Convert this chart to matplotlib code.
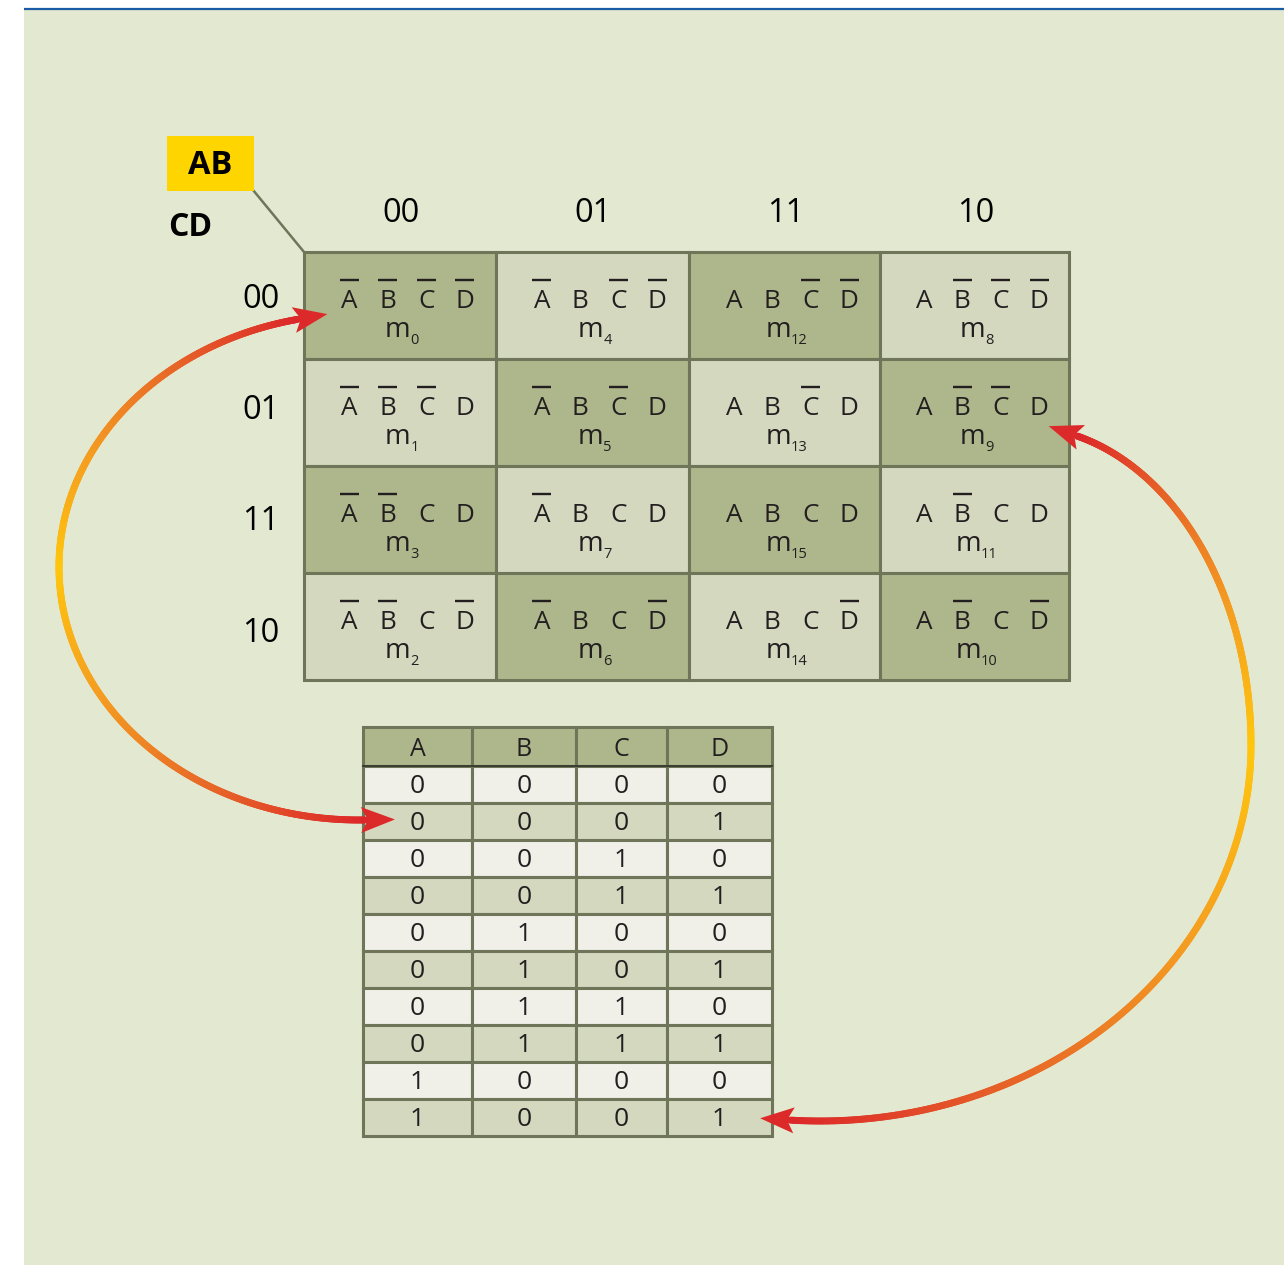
import numpy as np
import matplotlib.pyplot as plt
from matplotlib.patches import Rectangle, Polygon
from matplotlib.collections import LineCollection

plt.rcParams['font.family'] = ['Open Sans', 'DejaVu Sans']

# K-map axis codes (Gray order)
ab_codes = ['00', '01', '11', '10']
cd_codes = ['00', '01', '11', '10']
variables = ['A', 'B', 'C', 'D']

# truth table shown below the map
tt_header = ['A', 'B', 'C', 'D']
tt_rows = [
    [0, 0, 0, 0],
    [0, 0, 0, 1],
    [0, 0, 1, 0],
    [0, 0, 1, 1],
    [0, 1, 0, 0],
    [0, 1, 0, 1],
    [0, 1, 1, 0],
    [0, 1, 1, 1],
    [1, 0, 0, 0],
    [1, 0, 0, 1],
]

# colours
bg = '#E3E8D0'
dark_cell = '#AEB68B'
light_cell = '#D4D8BF'
white_row = '#F0F0E9'
edge = '#6E7558'
ink = '#231F20'

fig = plt.figure(figsize=(12.84, 12.65), dpi=100)
ax = fig.add_axes([0, 0, 1, 1])
ax.set_xlim(0, 1284)
ax.set_ylim(1265, 0)
ax.axis('off')

# page background + blue rule
ax.add_patch(Rectangle((24, 10), 1260, 1255, facecolor=bg, edgecolor='none', zorder=0))
ax.plot([24, 1284], [9, 9], color='#1B5CA8', lw=1.6, zorder=1, solid_capstyle='butt')

# --- Karnaugh map ---
x0, y0 = 304, 252
col_w = [192, 193, 191, 189]
row_h = 107
col_x = np.concatenate([[x0], x0 + np.cumsum(col_w)])
renderer = fig.canvas.get_renderer()

for r, cd in enumerate(cd_codes):
    top = y0 + r * row_h
    for c, ab in enumerate(ab_codes):
        left = col_x[c]
        w = col_w[c]
        fc = dark_cell if (r + c) % 2 == 0 else light_cell
        ax.add_patch(Rectangle((left, top), w, row_h, facecolor=fc,
                               edgecolor=edge, lw=2.2, zorder=2))
        cx = left + w / 2
        bits = ab + cd
        for i, (v, b) in enumerate(zip(variables, bits)):
            lx = cx + 7 + (i - 1.5) * 38.5
            ax.text(lx, top + 56, v, fontsize=18.8, color=ink, ha='center',
                    va='baseline', zorder=3)
            if b == '0':
                ax.plot([lx - 9.5, lx + 9.5], [top + 28, top + 28], color=ink,
                        lw=1.7, solid_capstyle='butt', zorder=3)
        # minterm label m_n
        n = int(bits, 2)
        tm = ax.text(0, top + 85, 'm', fontsize=20, color=ink, ha='left',
                     va='baseline', zorder=3)
        ts = ax.text(0, top + 92, str(n), fontsize=10.5, color=ink, ha='left',
                     va='baseline', zorder=3)
        wm = tm.get_window_extent(renderer).width
        ws = ts.get_window_extent(renderer).width
        start = cx + 2 - (wm + ws) / 2
        tm.set_x(start)
        ts.set_x(start + wm)

for c, ab in enumerate(ab_codes):
    ax.text(col_x[c] + col_w[c] / 2 + 1, 213, ab, fontsize=23.5, color='black',
            ha='center', va='center')
for r, cd in enumerate(cd_codes):
    ax.text(261, 299 + r * 111.5, cd, fontsize=23.5, color='black',
            ha='center', va='center')

# AB / CD corner label
ax.add_patch(Rectangle((167, 136), 87, 55, facecolor='#FFD500', edgecolor='none', zorder=2))
ax.text(210.5, 165, 'AB', fontsize=23.5, fontweight='bold', color='black',
        ha='center', va='center', zorder=3)
ax.text(190, 228, 'CD', fontsize=23, fontweight='bold', color='black',
        ha='center', va='center', zorder=3)
ax.plot([253, x0], [190, y0], color=edge, lw=1.8, zorder=1)

# --- truth table ---
tx0, ty0 = 363, 727
tcol_w = [109, 104, 91, 105]
tcol_x = np.concatenate([[tx0], tx0 + np.cumsum(tcol_w)])
head_h, trow_h = 39, 37

for c, h in enumerate(tt_header):
    ax.add_patch(Rectangle((tcol_x[c], ty0), tcol_w[c], head_h, facecolor=dark_cell,
                           edgecolor=edge, lw=2.2, zorder=2))
    ax.text(tcol_x[c] + tcol_w[c] / 2, ty0 + head_h / 2 + 3, h, fontsize=18,
            color=ink, ha='center', va='center', zorder=3)

for r, row in enumerate(tt_rows):
    top = ty0 + head_h + r * trow_h
    fc = white_row if r % 2 == 0 else light_cell
    for c, val in enumerate(row):
        ax.add_patch(Rectangle((tcol_x[c], top), tcol_w[c], trow_h, facecolor=fc,
                               edgecolor=edge, lw=2.2, zorder=2))
        ax.text(tcol_x[c] + tcol_w[c] / 2, top + trow_h / 2 + 2, str(val),
                fontsize=19, color=ink, ha='center', va='center', zorder=3)
ax.plot([tcol_x[0], tcol_x[-1]], [ty0 + head_h, ty0 + head_h], color='#3A3D30',
        lw=1.4, zorder=3)

# --- gradient double-headed arcs ---
stops = [0.0, 0.35, 0.65, 1.0]
stop_cols = np.array([[255, 199, 13], [244, 156, 33], [232, 106, 39], [220, 40, 42]]) / 255


def ramp(u):
    return np.stack([np.interp(u, stops, stop_cols[:, k]) for k in range(3)], axis=1)


def half_arc(cx, cy, a, b, tmid, tend):
    # quarter/half ellipse from the middle of the arc (yellow) out to one arrow end (red)
    t = np.linspace(tmid, tend, 300)
    pts = np.column_stack([cx + a * np.cos(t), cy + b * np.sin(t)])
    u = (t - tmid) / (tend - tmid)
    segs = np.stack([pts[:-1], pts[1:]], axis=1)
    cols = ramp((u[:-1] + u[1:]) / 2)
    ax.add_collection(LineCollection(segs, colors=cols, linewidths=5.0,
                                     capstyle='round', zorder=4))
    sgn = np.sign(tend - tmid)
    d = sgn * np.array([-a * np.sin(tend), b * np.cos(tend)])
    d = d / np.hypot(*d)
    nrm = np.array([-d[1], d[0]])
    base = pts[-1]
    tip = base + d * 30
    c1 = base - d * 4 + nrm * 13
    c2 = base - d * 4 - nrm * 13
    notch = base + d * 3
    ax.add_patch(Polygon([tip, c1, notch, c2], closed=True,
                         facecolor='#DC2A2A', edgecolor='none', zorder=5))


# m0 <-> row 0001
half_arc(359, 567, 300, 253, np.pi, 4.507)
half_arc(359, 567, 300, 253, np.pi, 1.551)
# m9 <-> row 1001
half_arc(1021, 745, 230, 318.6, 0.0, -1.3247)
half_arc(820, 745, 431, 376, 0.0, 1.6404)

fig.savefig('out.png', dpi=100, facecolor='white')
